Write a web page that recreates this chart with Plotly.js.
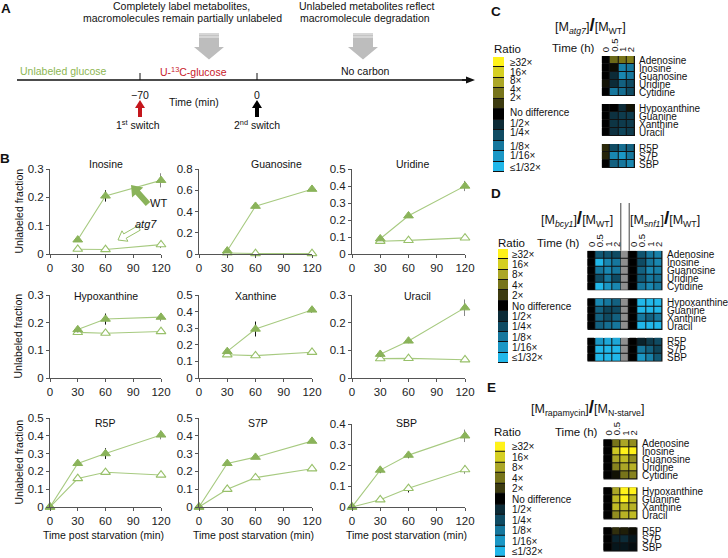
<!DOCTYPE html>
<html><head><meta charset="utf-8">
<script src="https://cdn.plot.ly/plotly-3.0.1.min.js"></script>
<style>html,body{margin:0;padding:0;background:#fff}#chart{width:728px;height:558px}</style>
</head><body><div id="chart"></div>
<script>
// ---------------- DATA ----------------
const tLate = [30, 60, 120];
const tFull = [0, 30, 60, 120];

const inosineWT = [0.05, 0.205, 0.26];      const inosineWTErr = [0.005, 0.02, 0.025];
const inosineAtg7 = [0.017, 0.016, 0.033];  const inosineAtg7Err = [0.003, 0.003, 0.012];
const guanosineWT = [0.03, 0.45, 0.61];     const guanosineWTErr = [0.01, 0.01, 0.012];
const guanosineAtg7 = [0.01, 0.005, 0.005]; const guanosineAtg7Err = [0, 0, 0];
const uridineWT = [0.09, 0.225, 0.40];      const uridineWTErr = [0.01, 0.01, 0.03];
const uridineAtg7 = [0.075, 0.08, 0.095];   const uridineAtg7Err = [0.005, 0.005, 0.01];
const hypoxanthineWT = [0.175, 0.213, 0.22];   const hypoxanthineWTErr = [0.01, 0.02, 0.015];
const hypoxanthineAtg7 = [0.165, 0.162, 0.168]; const hypoxanthineAtg7Err = [0.005, 0.005, 0.005];
const xanthineWT = [0.16, 0.295, 0.41];     const xanthineWTErr = [0.01, 0.045, 0.018];
const xanthineAtg7 = [0.14, 0.135, 0.155];  const xanthineAtg7Err = [0.005, 0.005, 0.005];
const uracilWT = [0.086, 0.134, 0.254];     const uracilWTErr = [0.01, 0.008, 0.03];
const uracilAtg7 = [0.07, 0.071, 0.066];    const uracilAtg7Err = [0.004, 0.004, 0.004];
const r5pWT = [0, 0.245, 0.30, 0.405];      const r5pWTErr = [0, 0.01, 0.03, 0.025];
const r5pAtg7 = [0, 0.16, 0.195, 0.18];     const r5pAtg7Err = [0, 0.01, 0.015, 0.01];
const s7pWT = [0, 0.245, 0.28, 0.37];       const s7pWTErr = [0, 0.01, 0.01, 0.01];
const s7pAtg7 = [0, 0.10, 0.165, 0.215];    const s7pAtg7Err = [0, 0.005, 0.01, 0.01];
const sbpWT = [0, 0.178, 0.25, 0.343];      const sbpWTErr = [0, 0.015, 0.015, 0.03];
const sbpAtg7 = [0, 0.035, 0.09, 0.18];     const sbpAtg7Err = [0, 0.005, 0.02, 0.02];

const hmGroups = [['Adenosine','Inosine','Guanosine','Uridine','Cytidine'],
                  ['Hypoxanthine','Guanine','Xanthine','Uracil'],
                  ['R5P','S7P','SBP']];
const timeLabelsH = ['0', '0.5', '1', '2'];
// log2 ratios, columns = 0, 0.5, 1, 2 h
const atg7Log2 = [
  [0, 1.8, 2.0, 2.2], [0, 0.2, -3.3, -3.0], [0, -1.0, -3.5, -3.0], [0.3, -1.0, -2.5, -2.0], [0, -3.0, -2.8, -2.0],
  [0, 0, -1.0, 0.3], [0, -1.2, -1.5, -1.5], [0, -1.3, -1.5, -1.5], [0, -1.2, -1.8, -1.5],
  [0.7, -2.0, -2.8, -2.5], [0.6, -3.5, -4.0, -3.0], [0, -2.5, -3.0, -3.5]];
const bcy1Log2 = [
  [0, -2.3, -2.2, -2.0], [0, -5, -3.5, -3.0], [0, -3.0, -3.5, -3.0], [0, -2.0, -3.0, -2.0], [0, -5, -4.0, -3.5],
  [0, -3.5, -3.0, -2.5], [0, -2.5, -1.8, -2.0], [0, -2.5, -2.0, -2.5], [0, -2.5, -2.8, -3.0],
  [0, -4.0, -4.5, -4.5], [0, -5, -5, -5], [0, -5, -5, -5]];
const snf1Log2 = [
  [0, -2.2, -3.0, -3.3], [0, -2.0, -3.0, -3.5], [0, -2.5, -3.5, -3.3], [0, -2.3, -3.0, -2.8], [0, -3.0, -3.5, -3.0],
  [0, -5, -5, -5], [0, -5, -5, -5], [0, -3.0, -2.5, -3.0], [0, -5, -5, -5],
  [0, -0.8, -1.5, -2.0], [0, -3.0, -2.5, -1.8], [0, -4.0, -3.3, -2.3]];
const rapaLog2 = [
  [0, 2.0, 3.0, 2.5], [0, 3.8, 5, 5], [0, 3.0, 3.5, 2.5], [0, 2.3, 3.0, 3.3], [0, 0.3, 2.0, 2.3],
  [0, 3.0, 5, 5], [0, 3.5, 5, 3.5], [0, 3.5, 3.5, 3.3], [0, 2.5, 3.3, 3.5],
  [0, 0.8, 0.5, 0.2], [0, -0.8, -1.0, -0.5], [0, -0.5, -0.5, -0.3]];
const ratioLevels = [5, 4, 3, 2, 1, 0, -1, -2, -3, -4, -5];
const ratioLabels = ['≥32×','16×','8×','4×','2×','No difference','1/2×','1/4×','1/8×','1/16×','≤1/32×'];
const ratioColors = ['#fff21a','#d5cf22','#aba626','#77741a','#3d3b10','#000000','#0c2b37','#0f4b63','#16779d','#1b97c5','#21b7e9'];

// ---------------- HELPERS ----------------
const W = 728, H = 558;
const X = px => px / W, Y = py => 1 - py / H;
const FONT = 'Arial, "Liberation Sans", sans-serif';
const traces = [], annotations = [], shapes = [];
const layout = {width: W, height: H, margin: {l:0, r:0, t:0, b:0}, paper_bgcolor:'#fff', plot_bgcolor:'rgba(0,0,0,0)',
  showlegend: false, font: {family: FONT, color: '#111'}, annotations, shapes};

function txt(text, x, y, size, extra) {
  annotations.push(Object.assign({text, x: X(x), y: Y(y), xref:'paper', yref:'paper', showarrow:false,
    xanchor:'center', yanchor:'middle', font:{size: size || 10.5, family: FONT, color:'#111'}}, extra || {}));
}
function poly(pts, fill, line, lw) {
  shapes.push({type:'path', xref:'paper', yref:'paper', layer:'above',
    path: 'M' + pts.map(p => X(p[0]).toFixed(5) + ',' + Y(p[1]).toFixed(5)).join('L') + 'Z',
    fillcolor: fill, line: {color: line || fill, width: lw || 0}});
}
function arrowPts(tx, ty, hx, hy, w, hw, hl) {
  const dx = hx - tx, dy = hy - ty, L = Math.hypot(dx, dy), ux = dx / L, uy = dy / L, nx = -uy, ny = ux;
  const bx = hx - ux * hl, by = hy - uy * hl;
  return [[tx + nx*w/2, ty + ny*w/2], [bx + nx*w/2, by + ny*w/2], [bx + nx*hw/2, by + ny*hw/2], [hx, hy],
          [bx - nx*hw/2, by - ny*hw/2], [bx - nx*w/2, by - ny*w/2], [tx - nx*w/2, ty - ny*w/2]];
}
function pline(x0, y0, x1, y1, color, w) {
  shapes.push({type:'line', xref:'paper', yref:'paper', x0:X(x0), y0:Y(y0), x1:X(x1), y1:Y(y1), line:{color, width: w || 1}});
}

// ---------------- PANEL A ----------------
txt('<b>A</b>', 6, 8, 13.5);
txt('Completely label metabolites,', 181, 6);
txt('macromolecules remain partially unlabeled', 182, 18);
txt('Unlabeled metabolites reflect', 366, 6);
txt('macromolecule degradation', 365, 18);
[209, 363].forEach(cx => {
  poly([[cx-10,33],[cx+10,33],[cx+10,47],[cx+15,47],[cx,59.5],[cx-15,47],[cx-10,47]], '#bdbdbd');
  poly([[cx-10,33],[cx+10,33],[cx+10,38],[cx-10,38]], '#d6d6d6');
  pline(cx-10, 35.5, cx+10, 35.5, '#c4c4c4', 1);
});
pline(17, 80, 468, 80, '#111', 1.3);
poly(arrowPts(462, 80, 475, 80, 1.3, 7, 9), '#111');
pline(140, 73, 140, 80, '#111', 1);
pline(257, 73, 257, 80, '#111', 1);
txt('Unlabeled glucose', 63, 71, 10.5, {font:{size:10.5, family:FONT, color:'#8db653'}});
txt('U-<sup>13</sup>C-glucose', 193, 71, 10.5, {font:{size:10.5, family:FONT, color:'#c8202a'}});
txt('No carbon', 365, 71, 10.5);
txt('−70', 140, 95, 10.5);
txt('0', 257, 95, 10.5);
txt('Time (min)', 194, 102, 10.5);
poly(arrowPts(140, 117, 140, 100, 4, 10, 8), '#c4161c');
poly(arrowPts(257, 117, 257, 100, 4, 10, 8), '#000');
txt('1<sup>st</sup> switch', 138, 124, 10.5);
txt('2<sup>nd</sup> switch', 257, 124, 10.5);

// ---------------- PANEL B ----------------
txt('<b>B</b>', 5, 158, 13.5);
const panels = [
  {name:'Inosine', t:tLate, wt:inosineWT, wtE:inosineWTErr, mu:inosineAtg7, muE:inosineAtg7Err, ymax:0.3, dt:0.1, col:0, row:0, tx:106},
  {name:'Guanosine', t:tLate, wt:guanosineWT, wtE:guanosineWTErr, mu:guanosineAtg7, muE:guanosineAtg7Err, ymax:0.8, dt:0.2, col:1, row:0, tx:276},
  {name:'Uridine', t:tLate, wt:uridineWT, wtE:uridineWTErr, mu:uridineAtg7, muE:uridineAtg7Err, ymax:0.5, dt:0.1, col:2, row:0, tx:412},
  {name:'Hypoxanthine', t:tLate, wt:hypoxanthineWT, wtE:hypoxanthineWTErr, mu:hypoxanthineAtg7, muE:hypoxanthineAtg7Err, ymax:0.3, dt:0.1, col:0, row:1, tx:106},
  {name:'Xanthine', t:tLate, wt:xanthineWT, wtE:xanthineWTErr, mu:xanthineAtg7, muE:xanthineAtg7Err, ymax:0.5, dt:0.1, col:1, row:1, tx:256},
  {name:'Uracil', t:tLate, wt:uracilWT, wtE:uracilWTErr, mu:uracilAtg7, muE:uracilAtg7Err, ymax:0.3, dt:0.1, col:2, row:1, tx:418},
  {name:'R5P', t:tFull, wt:r5pWT, wtE:r5pWTErr, mu:r5pAtg7, muE:r5pAtg7Err, ymax:0.5, dt:0.1, col:0, row:2, tx:105},
  {name:'S7P', t:tFull, wt:s7pWT, wtE:s7pWTErr, mu:s7pAtg7, muE:s7pAtg7Err, ymax:0.5, dt:0.1, col:1, row:2, tx:258},
  {name:'SBP', t:tFull, wt:sbpWT, wtE:sbpWTErr, mu:sbpAtg7, muE:sbpAtg7Err, ymax:0.4, dt:0.1, col:2, row:2, tx:406},
];
const colX = [[50,161],[199,312],[352,465]];
const rowY = [[169,254],[295,378],[418,507]];
const titleY = [164, 296, 423];
const LINE_G = '#a7ca80', FILL_G = '#8ab35a', OPEN_G = '#98c06a';
const axStyle = {showline:true, linecolor:'#555', linewidth:1, ticks:'outside', ticklen:3, tickcolor:'#555',
  showgrid:false, zeroline:false, tickfont:{size:11.5, family:FONT, color:'#222'}, fixedrange:true};
panels.forEach((p, i) => {
  const n = i + 1, xs = n === 1 ? '' : n;
  const top = (p.name === 'SBP') ? 424 : rowY[p.row][0];
  layout['xaxis' + xs] = Object.assign({}, axStyle, {domain:[X(colX[p.col][0]), X(colX[p.col][1])], anchor:'y' + xs,
    range:[0, 120], tickvals:[0,30,60,90,120]});
  layout['yaxis' + xs] = Object.assign({}, axStyle, {domain:[Y(rowY[p.row][1]), Y(top)], anchor:'x' + xs,
    range:[0, p.ymax], dtick:p.dt, tick0:0});
  const common = {x:p.t, xaxis:'x' + xs, yaxis:'y' + xs, type:'scatter', mode:'lines+markers', cliponaxis:false,
    hoverinfo:'skip', line:{color:LINE_G, width:1.1}};
  traces.push(Object.assign({}, common, {y:p.mu,
    error_y:{type:'data', array:p.muE, visible:true, color:'#111', thickness:1, width:0},
    marker:{symbol:'triangle-up', size:8.5, color:'#fff', line:{color:OPEN_G, width:1.1}}}));
  traces.push(Object.assign({}, common, {y:p.wt,
    error_y:{type:'data', array:p.wtE, visible:true, color:'#111', thickness:1, width:0},
    marker:{symbol:'triangle-up', size:8.5, color:FILL_G, line:{color:FILL_G, width:1}}}));
  txt(p.name, p.tx, titleY[p.row], 10.5);
  if (p.col === 0) txt('Unlabeled fraction', 18, (rowY[p.row][0] + rowY[p.row][1]) / 2, 10.5, {textangle:-90});
  if (p.row === 2) txt('Time post starvation (min)', (colX[p.col][0] + colX[p.col][1]) / 2 - 2, 535, 10.5);
});
// WT / atg7 callouts in Inosine plot
poly(arrowPts(148, 204, 131, 185, 6, 15, 10), FILL_G);
txt('WT', 158, 203, 11);
poly(arrowPts(139, 228, 118, 240, 5, 12, 8), '#fff', OPEN_G, 1);
txt('<i>atg7</i>', 146, 224, 11);

// ---------------- HEATMAPS ----------------
const colorscale = ratioLevels.slice().reverse().map((v, k) => [(v + 5) / 10, ratioColors.slice().reverse()[k]]);
function withGaps(rows) {
  const out = []; let k = 0; const nc = rows[0].length;
  hmGroups.forEach((g, gi) => { g.forEach(() => out.push(rows[k++])); if (gi < hmGroups.length - 1) out.push(new Array(nc).fill(null)); });
  return out;
}
const rowLabels = [];
hmGroups.forEach((g, gi) => { g.forEach(nm => rowLabels.push(nm)); if (gi < hmGroups.length - 1) rowLabels.push(null); });
const nRows = rowLabels.length;
const rowIdx = rowLabels.map((_, k) => k);
function groupRanges() {
  const r = []; let s = 0;
  hmGroups.forEach(g => { r.push([s, s + g.length - 1]); s += g.length + 1; });
  return r;
}
function hmAxes(id, xd, yd, nCols, nR) {
  const hidden = {showline:false, showgrid:false, zeroline:false, showticklabels:false, ticks:'', fixedrange:true};
  layout['xaxis' + id] = Object.assign({}, hidden, {domain:[X(xd[0]), X(xd[1])], range:[-0.5, nCols - 0.5], anchor:'y' + id, autorange:false});
  layout['yaxis' + id] = Object.assign({}, hidden, {domain:[Y(yd[1]), Y(yd[0])], range:[nR - 0.5, -0.5], anchor:'x' + id, autorange:false});
}
function blackRect(id, x0, x1, y0, y1) {
  shapes.push({type:'rect', xref:'x' + id, yref:'y' + id, x0, x1, y0, y1, fillcolor:'#111', line:{width:0}, layer:'below'});
}
function heat(id, z, x) {
  traces.push({type:'heatmap', z, x, y:rowIdx, xaxis:'x' + id, yaxis:'y' + id, colorscale, zmin:-5, zmax:5, showscale:false,
    xgap:1, ygap:1, hoverinfo:'skip'});
}
function rowLabelAnn(id, xpx) {
  rowLabels.forEach((nm, r) => { if (nm) annotations.push({text:nm, x:X(xpx), xref:'paper', y:r, yref:'y' + id,
    showarrow:false, xanchor:'left', yanchor:'middle', font:{size:10, family:FONT, color:'#111'}}); });
}
function timeAnn(id, cols, ybot) {
  cols.forEach((c, k) => annotations.push({text:timeLabelsH[k % 4], x:c, xref:'x' + id, y:Y(ybot), yref:'paper',
    showarrow:false, textangle:-90, xanchor:'center', yanchor:'bottom', font:{size:9.5, family:FONT, color:'#111'}}));
}
function legendBlock(id, xd, yd, labelX, labelYs, ratioXY) {
  hmAxes(id, xd, yd, 1, 11);
  blackRect(id, -0.5, 0.5, -0.5, 10.5);
  traces.push({type:'heatmap', z:ratioLevels.map(v => [v]), x:[0], y:ratioLevels.map((v, k) => k), xaxis:'x' + id, yaxis:'y' + id,
    colorscale, zmin:-5, zmax:5, showscale:false, xgap:0, ygap:1, hoverinfo:'skip'});
  ratioLabels.forEach((lb, k) => txt(lb, labelX, labelYs[k], 10, {xanchor:'left'}));
  txt('Ratio', ratioXY[0], ratioXY[1], 11.5, {xanchor:'left'});
}
const boxCenters = (top, bot) => ratioLevels.map((v, k) => top + (k + 0.5) * (bot - top) / 11);

// Panel C
txt('<b>C</b>', 496, 11, 13.5);
hmAxes(10, [601.7, 635], [56, 168], 4, nRows);
groupRanges().forEach(([s, e]) => blackRect(10, -0.5, 3.5, s - 0.5, e + 0.5));
heat(10, withGaps(atg7Log2), [0, 1, 2, 3]);
rowLabelAnn(10, 637);
timeAnn(10, [0, 1, 2, 3], 54);
txt('Time (h)', 597, 48, 11.5, {xanchor:'right'});
txt('[M<sub><i>atg7</i></sub>]<span style="font-size:19px"><b>/</b></span>[M<sub>WT</sub>]', 590, 25, 12.5);
legendBlock(13, [493, 504], [57, 172], 508, [62, 72, 81, 89, 97, 112, 123, 133, 146, 155, 167], [492, 49]);

// Panel D
txt('<b>D</b>', 496, 193, 13.5);
hmAxes(11, [587.3, 662.7], [250.7, 361.7], 9, nRows);
groupRanges().forEach(([s, e]) => blackRect(11, -0.5, 8.5, s - 0.5, e + 0.5));
heat(11, withGaps(bcy1Log2.map((r, k) => r.concat([null], snf1Log2[k]))), [0, 1, 2, 3, 4, 5, 6, 7, 8]);
traces.push({type:'heatmap', z:withGaps(bcy1Log2.map(() => [1])), x:[4], y:rowIdx, xaxis:'x11', yaxis:'y11',
  colorscale:[[0, '#8f8f8f'], [1, '#8f8f8f']], zmin:0, zmax:1, showscale:false, xgap:1, ygap:1, hoverinfo:'skip'});
[3.5, 4.5].forEach(xv => shapes.push({type:'line', xref:'x11', yref:'paper', x0:xv, x1:xv, y0:Y(250.7), y1:Y(203),
  line:{color:'#444', width:1}}));
rowLabelAnn(11, 665);
timeAnn(11, [0, 1, 2, 3, 5, 6, 7, 8], 249);
txt('Time (h)', 582, 243, 11.5, {xanchor:'right'});
txt('[M<sub><i>bcy1</i></sub>]<span style="font-size:19px"><b>/</b></span>[M<sub>WT</sub>]', 577, 218, 12.5);
txt('[M<sub><i>snf1</i></sub>]<span style="font-size:19px"><b>/</b></span>[M<sub>WT</sub>]', 665, 218, 12.5);
legendBlock(14, [498, 508], [249, 363], 510, boxCenters(249, 363), [496, 243]);

// Panel E
txt('<b>E</b>', 491, 387, 13.5);
hmAxes(12, [603.3, 637.7], [439.3, 551.7], 4, nRows);
groupRanges().forEach(([s, e]) => blackRect(12, -0.5, 3.5, s - 0.5, e + 0.5));
heat(12, withGaps(rapaLog2), [0, 1, 2, 3]);
rowLabelAnn(12, 640);
timeAnn(12, [0, 1, 2, 3], 437.5);
txt('Time (h)', 600, 432, 11.5, {xanchor:'right'});
txt('[M<sub>rapamycin</sub>]<span style="font-size:19px"><b>/</b></span>[M<sub>N-starve</sub>]', 587, 407, 12.5);
legendBlock(15, [495, 505], [441.7, 557], 510, boxCenters(441.7, 557), [492, 432]);

Plotly.newPlot('chart', traces, layout, {staticPlot:true, displayModeBar:false});
</script></body></html>
